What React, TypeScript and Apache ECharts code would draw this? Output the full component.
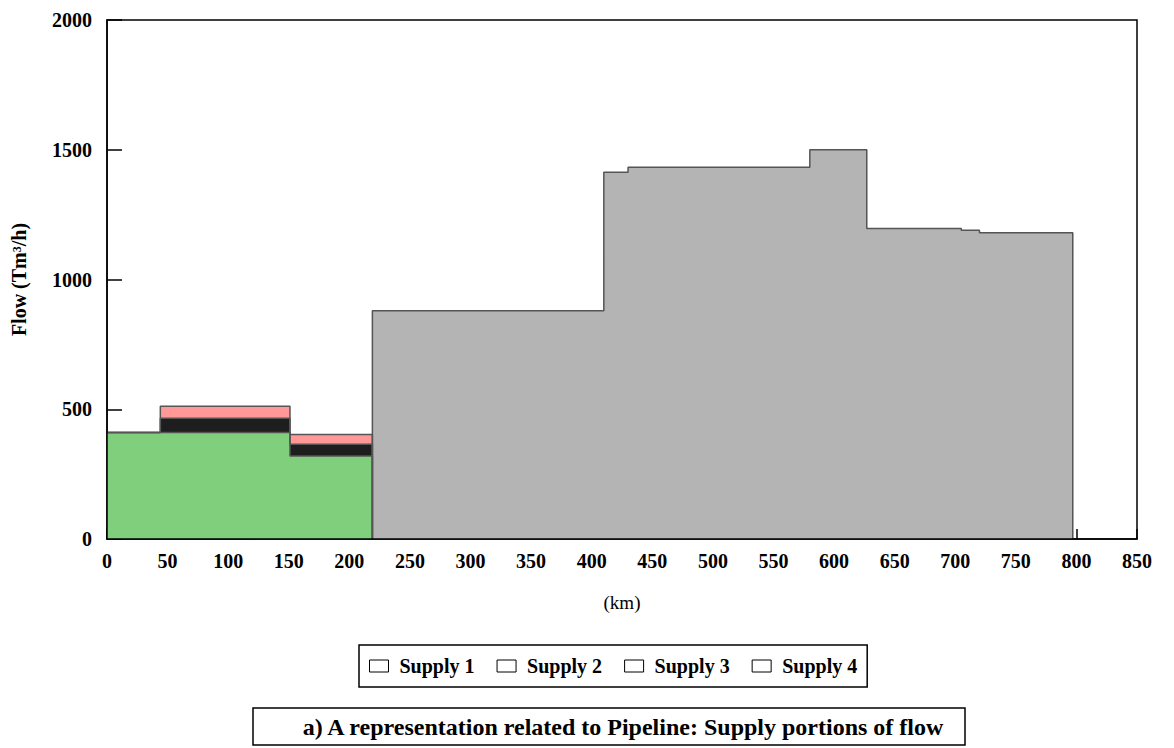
import React, { useEffect, useRef } from "react";
import * as echarts from "echarts";

// Segment breakpoints (km) and flows (Tm³/h)
const leftBreaks = [0, 44, 151, 219];
const supply1 = [410, 410, 320];
const supply2 = [0, 55, 45];
const supply3 = [0, 47, 38];

const rightBreaks = [219, 410, 430, 580, 627, 705, 720, 797];
const supply4 = [880, 1413, 1433, 1500, 1197, 1190, 1180];

const seriesNames = ["Supply 1", "Supply 2", "Supply 3", "Supply 4"];
const xMax = 850;
const yMax = 2000;

const FONT = "'Liberation Serif', 'Times New Roman', serif";

function stepPoints(breaks: number[], values: number[], closeStart: boolean) {
  const pts: number[][] = [];
  if (closeStart) pts.push([breaks[0], 0]);
  for (let i = 0; i < values.length; i++) {
    pts.push([breaks[i], values[i]]);
    pts.push([breaks[i + 1], values[i]]);
  }
  pts.push([breaks[breaks.length - 1], 0]);
  return pts;
}

function cumulate(...arrs: number[][]) {
  return arrs[0].map((_, i) => arrs.reduce((s, a) => s + a[i], 0));
}

export default function App() {
  const ref = useRef<HTMLDivElement>(null);
  useEffect(() => {
    if (!ref.current) return;
    const chart = echarts.init(ref.current, undefined, { renderer: "svg" });
    const outline = { color: "#555555", width: 1.5 };
    const mk = (name: string, data: number[][], fill: string) => ({
      name,
      type: "line",
      data,
      symbol: "none",
      showSymbol: false,
      lineStyle: outline,
      itemStyle: { color: fill },
      areaStyle: { color: fill, opacity: 1 },
      silent: true,
    });
    chart.setOption({
      animation: false,
      grid: {
        left: 107,
        right: 37,
        top: 20,
        bottom: 209,
        show: true,
        borderColor: "#000",
        borderWidth: 1.5,
        backgroundColor: "transparent",
        z: 10,
      },
      xAxis: {
        type: "value",
        min: 0,
        max: xMax,
        interval: 50,
        name: "(km)",
        nameLocation: "middle",
        nameGap: 54,
        nameTextStyle: { fontFamily: FONT, fontSize: 19, color: "#000" },
        axisLine: { show: true, lineStyle: { color: "#000", width: 1.5 } },
        axisTick: { show: true, inside: true, length: 10, lineStyle: { color: "#000", width: 1.5 } },
        axisLabel: { fontFamily: FONT, fontSize: 20, fontWeight: "bold", color: "#000", margin: 12 },
        splitLine: { show: false },
      },
      yAxis: {
        type: "value",
        min: 0,
        max: yMax,
        interval: 500,
        name: "Flow (Tm³/h)",
        nameLocation: "middle",
        nameGap: 78,
        nameTextStyle: { fontFamily: FONT, fontSize: 20, fontWeight: "bold", color: "#000" },
        axisLine: { show: true, lineStyle: { color: "#000", width: 1.5 } },
        axisTick: { show: true, inside: true, length: 15, lineStyle: { color: "#000", width: 1.5 } },
        axisLabel: {
          fontFamily: FONT,
          fontSize: 20,
          fontWeight: "bold",
          color: "#000",
          margin: 15,
          formatter: (v: number) => String(v),
        },
        splitLine: { show: false },
      },
      legend: {
        data: seriesNames,
        left: 359,
        top: 645,
        orient: "horizontal",
        icon: "rect",
        itemWidth: 19,
        itemHeight: 12,
        itemGap: 22,
        padding: [11, 10],
        borderColor: "#000",
        borderWidth: 1.5,
        selectedMode: false,
        itemStyle: { color: "#fff", borderColor: "#000", borderWidth: 1 },
        textStyle: {
          fontFamily: FONT,
          fontSize: 20,
          fontWeight: "bold",
          color: "#000",
          padding: [0, 0, 0, 6],
        },
      },
      graphic: [
        {
          type: "rect",
          shape: { x: 253, y: 708, width: 712, height: 37 },
          style: { fill: "#fff", stroke: "#000", lineWidth: 1.5 },
          silent: true,
        },
        {
          type: "text",
          x: 623,
          y: 727,
          style: {
            text: "a) A representation related to Pipeline: Supply portions of flow",
            fontFamily: FONT,
            fontSize: 24,
            fontWeight: "bold",
            fill: "#000",
            align: "center",
            verticalAlign: "middle",
          },
          silent: true,
        },
      ],
      series: [
        mk("Supply 4", stepPoints(rightBreaks, supply4, true), "#b4b4b4"),
        mk("Supply 3", stepPoints(leftBreaks, cumulate(supply1, supply2, supply3), false), "#ff9896"),
        mk("Supply 2", stepPoints(leftBreaks, cumulate(supply1, supply2), false), "#1e1e1e"),
        mk("Supply 1", stepPoints(leftBreaks, supply1, false), "#7fcf7d"),
      ],
    });
    return () => chart.dispose();
  }, []);
  return (
    <div
      ref={ref}
      style={{ position: "fixed", left: 0, top: 0, width: 1174, height: 748, background: "#fff" }}
    />
  );
}
